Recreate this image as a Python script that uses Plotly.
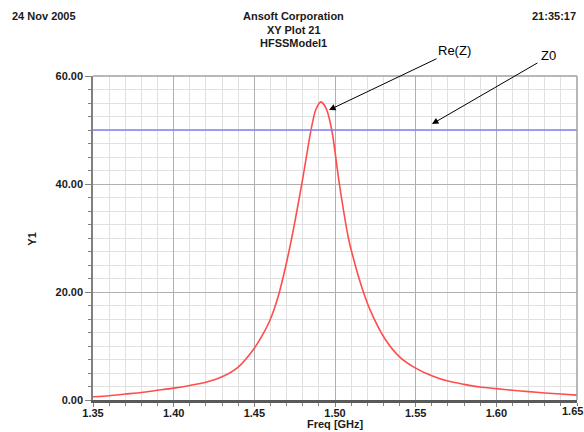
import plotly.graph_objects as go

# ---- data ----
freq_ghz = [1.35, 1.36, 1.37, 1.38, 1.39, 1.40, 1.41, 1.42, 1.43, 1.44, 1.45, 1.455,
            1.46, 1.465, 1.47, 1.475, 1.48, 1.485, 1.488, 1.4913, 1.4945, 1.498,
            1.5027, 1.5083, 1.513, 1.5176, 1.522, 1.531, 1.54, 1.55, 1.56, 1.57,
            1.58, 1.59, 1.60, 1.61, 1.62, 1.63, 1.64, 1.65]
re_z = [0.6, 0.8, 1.1, 1.4, 1.8, 2.2, 2.7, 3.3, 4.3, 6.1, 9.6, 12.0,
        15.0, 19.4, 25.5, 32.8, 41.0, 49.8, 53.7, 55.2, 54.0, 50.0,
        40.0, 30.0, 24.5, 20.0, 16.5, 11.3, 8.0, 5.9, 4.5, 3.5,
        2.9, 2.4, 2.1, 1.8, 1.55, 1.3, 1.1, 0.9]
z0_freq = [1.35, 1.65]
z0_vals = [50.0, 50.0]

x_tick_vals = [1.35, 1.40, 1.45, 1.50, 1.55, 1.60, 1.65]
x_tick_text = ["1.35", "1.40", "1.45", "1.50", "1.55", "1.60", "1.65"]
y_tick_vals = [0, 20, 40, 60]
y_tick_text = ["0.00", "20.00", "40.00", "60.00"]

x_range = [1.35, 1.65]
y_range = [0, 60]

# annotation targets (data coords) for arrows
rez_tip = (1.4963, 53.7)
z0_tip = (1.5601, 51.1)

FONT = "Liberation Sans, Arial, sans-serif"
TXT = "#1a1a1a"

fig = go.Figure()
fig.add_trace(go.Scatter(x=freq_ghz, y=re_z, mode="lines",
                         line=dict(color="#ff4d4d", width=1.6, shape="spline", smoothing=0.7),
                         showlegend=False, hoverinfo="skip"))
fig.add_trace(go.Scatter(x=z0_freq, y=z0_vals, mode="lines",
                         line=dict(color="#7f7fff", width=1.5),
                         showlegend=False, hoverinfo="skip"))

fig.update_layout(
    width=584, height=432,
    margin=dict(l=93, r=7, t=76, b=32, autoexpand=False),
    paper_bgcolor="white", plot_bgcolor="white",
    font=dict(family=FONT, color=TXT, size=11),
    xaxis=dict(range=x_range, tickmode="array", tickvals=x_tick_vals[:-1], ticktext=x_tick_text[:-1],
               showgrid=True, gridcolor="#b0b0b0", gridwidth=1,
               minor=dict(dtick=0.01, tick0=1.35, showgrid=True, gridcolor="#e0e0e0", gridwidth=1,
                          ticks="outside", ticklen=3, tickcolor="#808080"),
               ticks="outside", ticklen=4, tickcolor="#808080",
               showline=True, linecolor="#5a5a5a", linewidth=2.5,
               zeroline=False, automargin=False, ticklabelstandoff=-3,
               tickfont=dict(family=FONT, size=11, color=TXT, weight="bold")),
    yaxis=dict(range=y_range, tickmode="array", tickvals=y_tick_vals, ticktext=y_tick_text,
               showgrid=True, gridcolor="#b0b0b0", gridwidth=1,
               minor=dict(dtick=2.5, tick0=0, showgrid=True, gridcolor="#e0e0e0", gridwidth=1,
                          ticks="outside", ticklen=3, tickcolor="#808080"),
               ticks="outside", ticklen=6, tickcolor="#808080",
               showline=True, linecolor="#808080", linewidth=1.5,
               zeroline=False, automargin=False,
               tickfont=dict(family=FONT, size=11, color=TXT, weight="bold")),
)

# last x tick label, nudged left so it stays on the page
fig.add_annotation(text=x_tick_text[-1], x=x_tick_vals[-1], xref="x", yref="paper", y=-0.033,
                   showarrow=False, xanchor="center", yanchor="middle", xshift=-5,
                   font=dict(family=FONT, size=11, color=TXT, weight="bold"))

# frame top and right
fig.add_shape(type="line", xref="paper", yref="paper", x0=0, x1=1, y0=1, y1=1,
              line=dict(color="#a0a0a0", width=1.5))
fig.add_shape(type="line", xref="paper", yref="paper", x0=1, x1=1, y0=0, y1=1,
              line=dict(color="#a0a0a0", width=1.5))

hdr = dict(xref="paper", yref="paper", showarrow=False, font=dict(size=11, color=TXT, family=FONT))
fig.add_annotation(text="<b>24 Nov 2005</b>", x=-0.1715, y=1.185, xanchor="left", yanchor="middle", **hdr)
fig.add_annotation(text="<b>21:35:17</b>", x=1.002, y=1.185, xanchor="right", yanchor="middle", **hdr)
fig.add_annotation(text="<b>Ansoft Corporation</b>", x=0.415, y=1.185, xanchor="center", yanchor="middle", **hdr)
fig.add_annotation(text="<b>XY Plot 21</b>", x=0.415, y=1.142, xanchor="center", yanchor="middle", **hdr)
fig.add_annotation(text="<b>HFSSModel1</b>", x=0.415, y=1.102, xanchor="center", yanchor="middle", **hdr)

# axis titles
fig.add_annotation(text="<b>Y1</b>", xref="paper", yref="paper", x=-0.126, y=0.495,
                   textangle=-90, showarrow=False, xanchor="center", yanchor="middle",
                   font=dict(size=11, color=TXT, family=FONT))
fig.add_annotation(text="<b>Freq [GHz]</b>", xref="paper", yref="paper", x=0.5, y=-0.074,
                   showarrow=False, xanchor="center", yanchor="middle",
                   font=dict(size=11, color=TXT, family=FONT))

# labels
fig.add_annotation(text="Re(Z)", xref="paper", yref="paper", x=0.746, y=1.080, showarrow=False,
                   xanchor="center", yanchor="middle", font=dict(size=13, color="black", family=FONT))
fig.add_annotation(text="Z0", xref="paper", yref="paper", x=0.942, y=1.062, showarrow=False,
                   xanchor="center", yanchor="middle", font=dict(size=13, color="black", family=FONT))

# arrows
fig.add_annotation(x=rez_tip[0], y=rez_tip[1], xref="x", yref="y", text="", showarrow=True,
                   ax=109, ay=-52, arrowhead=2, arrowsize=1.3, arrowwidth=1, arrowcolor="black")
fig.add_annotation(x=z0_tip[0], y=z0_tip[1], xref="x", yref="y", text="", showarrow=True,
                   ax=107, ay=-62, arrowhead=2, arrowsize=1.3, arrowwidth=1, arrowcolor="black")

fig.write_html("out.html", config={"displayModeBar": False},
               post_script="document.body.style.margin='0';document.body.style.padding='0';")
